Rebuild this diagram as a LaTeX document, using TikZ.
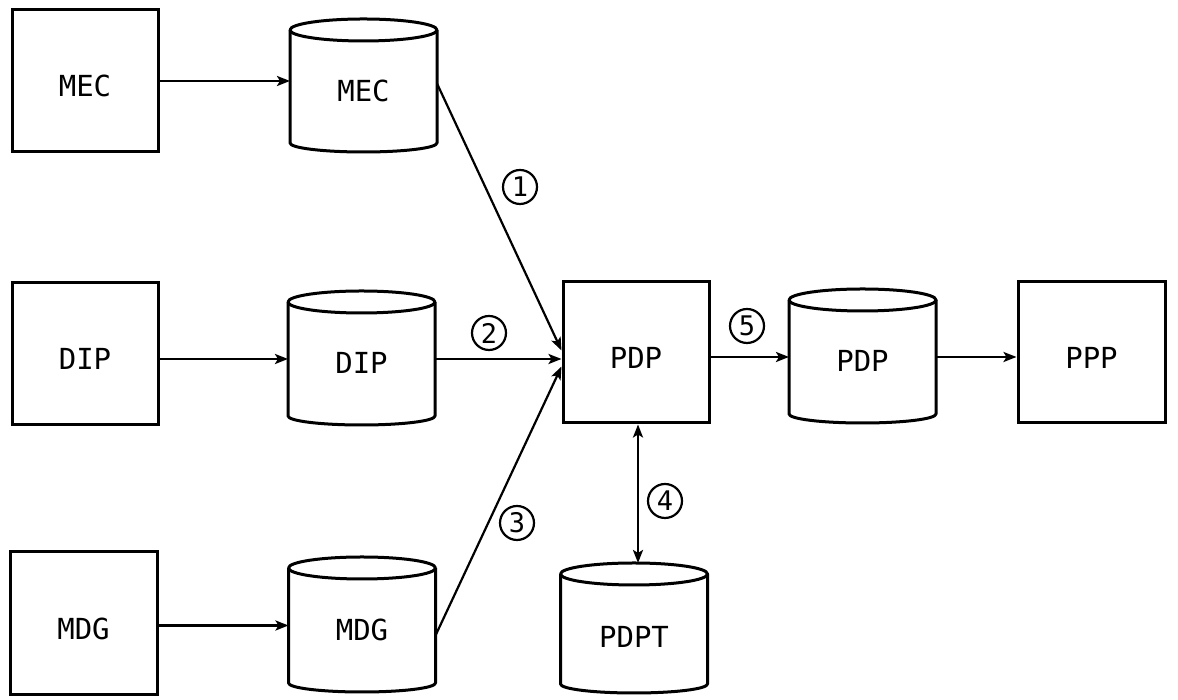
\documentclass[tikz,border=0pt]{standalone}
\usepackage{fontspec}
\newfontfamily\lblfont{DejaVu Sans Mono}
\usetikzlibrary{arrows.meta}
\newcommand\drawcyl[1]{%
  \draw[cylline] (#1.north west) -- (#1.south west)
    arc[start angle=180, end angle=360, x radius=73.5pt, y radius=9pt] -- (#1.north east);
  \draw[cylline] (#1.north) ellipse[x radius=73.5pt, y radius=11pt];}
\begin{document}
\begin{tikzpicture}[x=1pt,y=1pt,
  boxnode/.style={draw, line width=3pt, minimum width=146pt, minimum height=142pt,
    inner sep=0pt, text height=32pt, text depth=0pt, font=\lblfont\fontsize{29}{34}\selectfont},
  cylbody/.style={inner sep=0pt, outer sep=0pt, minimum width=147pt,
    text height=30pt, text depth=0pt, font=\lblfont\fontsize{29}{34}\selectfont},
  cylline/.style={line width=3pt, line join=round},
  conn/.style={line width=2.5pt, -{Stealth[length=13pt,width=10pt,inset=3pt]}},
  slant/.style={line width=2.2pt, -{Stealth[length=13pt,width=10pt,inset=3pt]}},
  num/.style={circle, draw, line width=2.2pt, minimum size=34pt, inner sep=0pt,
    font=\lblfont\fontsize{27}{30}\selectfont}
]
\useasboundingbox (0,0) rectangle (1178,700);
% boxes
\node[boxnode] (mecbox) at (85,619) {MEC};
\node[boxnode] (dipbox) at (85,346) {DIP};
\node[boxnode, minimum width=147pt, minimum height=143pt] (mdgbox) at (83.5,76.5) {MDG};
\node[boxnode, minimum height=141pt] (pdpbox) at (636,347.5) {PDP};
\node[boxnode, minimum width=147pt, minimum height=141pt] (pppbox) at (1091.5,347.5) {PPP};
% cylinders
\node[cylbody, minimum height=113pt] (meccyl) at (363.5,613.5) {MEC};
\node[cylbody, minimum height=114pt] (dipcyl) at (361.5,341) {DIP};
\node[cylbody, minimum height=114pt] (pdpcyl) at (862.5,343) {PDP};
\node[cylbody, minimum height=115pt] (mdgcyl) at (362,74.5) {MDG};
\node[cylbody, minimum height=110pt] (pdptcyl) at (634,71) {};
\node[font=\lblfont\fontsize{29}{34}\selectfont] (pdpttext) at (634,63) {PDPT};
\drawcyl{meccyl}
\drawcyl{dipcyl}
\drawcyl{pdpcyl}
\drawcyl{mdgcyl}
\drawcyl{pdptcyl}
% connectors
\draw[conn] (mecbox.east) -- (mecbox.east -| meccyl.west);
\draw[conn] (dipcyl.west -| dipbox.east) -- (dipcyl.west);
\draw[conn] (mdgcyl.west -| mdgbox.east) -- (mdgcyl.west);
\draw[slant] ([yshift=3pt]meccyl.east) -- ([yshift=2pt]pdpbox.west);
\draw[conn] (dipcyl.east) -- (dipcyl.east -| pdpbox.west);
\draw[slant] ([yshift=-10pt]mdgcyl.east) -- ([yshift=-14pt]pdpbox.west);
\draw[conn] (pdpcyl.west -| pdpbox.east) -- (pdpcyl.west);
\draw[conn] (pdpcyl.east) -- (pdpcyl.east -| pppbox.west);
\draw[line width=2.5pt, {Stealth[length=13pt,width=10pt,inset=3pt]}-{Stealth[length=13pt,width=10pt,inset=3pt]}]
  ([xshift=2pt]pdpbox.south) -- ([xshift=4pt,yshift=11pt]pdptcyl.north);
% labels
\node[num] (n1) at (520,513) {1};
\node[num] (n2) at (489,367) {2};
\node[num] (n3) at (517,177) {3};
\node[num] (n4) at (665,199) {4};
\node[num] (n5) at (747,374) {5};
\end{tikzpicture}
\end{document}
